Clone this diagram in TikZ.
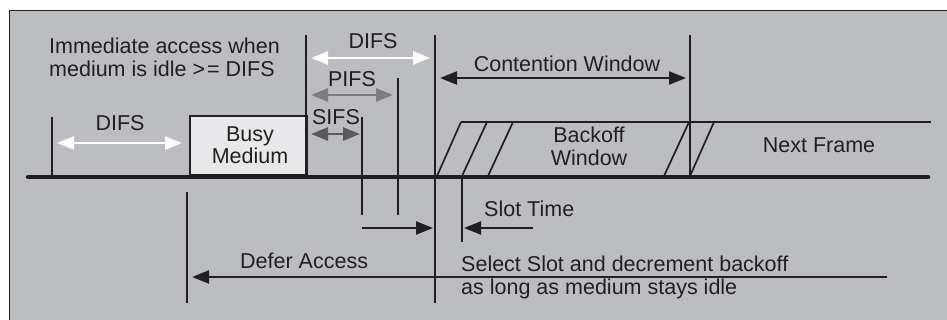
\documentclass[tikz,border=0pt]{standalone}
\usepackage{fontspec}
\setmainfont{Liberation Sans}
\usetikzlibrary{arrows.meta}
\definecolor{panel}{HTML}{BCBDC1}
\definecolor{busyfill}{HTML}{E8E8EA}
\definecolor{ink}{HTML}{231F20}
\definecolor{pifsgray}{HTML}{7E7E81}
\definecolor{sifsgray}{HTML}{5A5A5D}
\tikzset{
  lbl/.style={font=\fontsize{21.5}{23}\selectfont, text=ink, inner sep=0pt},
  thin/.style={draw=ink, line width=1.7pt},
  medium/.style={draw=ink, line width=4.5pt, line cap=round},
  tip/.tip={Triangle[length=17pt,width=13pt]},
  span/.style={line width=2.6pt, {tip}-{tip}},
  onearrow/.style={draw=ink, line width=2.2pt, -{tip}, fill=ink},
}
\begin{document}
\begin{tikzpicture}[x=1pt,y=-1pt]
\useasboundingbox (0,0) rectangle (947,320);
% panel
\fill[panel] (9.5,10.5) rectangle (947,320);
\draw[ink, line width=1.6pt] (9.5,320) -- (9.5,10.5) -- (947,10.5);

% busy medium frame
\node[draw=ink, line width=1.7pt, fill=busyfill, minimum width=117pt, minimum height=59pt,
      inner sep=0pt, anchor=south west] (busy) at (189,176) {};
\node[lbl, anchor=base] (busyA) at (250,142) {Busy};
\node[lbl, anchor=base] (busyB) at (250,164) {Medium};

% time points
\coordinate (t0top) at (52,117);   \coordinate (t0bot) at (52,176);
\coordinate (busytop) at (306,35); \coordinate (busybot) at (306,176);
\coordinate (sifstop) at (362,117); \coordinate (sifsbot) at (362,215);
\coordinate (pifstop) at (398,78);  \coordinate (pifsbot) at (398,215);
\coordinate (difstop) at (435,35);  \coordinate (difsbot) at (435,303);
\coordinate (cwtop) at (690,35);    \coordinate (cwbot) at (690,176);
\coordinate (slottop) at (462,176); \coordinate (slotbot) at (462,242);
\coordinate (defertop) at (187,192); \coordinate (deferbot) at (187,303);

\draw[thin] (t0top) -- (t0bot);
\draw[thin] (busytop) -- (busybot);
\draw[thin] (sifstop) -- (sifsbot);
\draw[thin] (pifstop) -- (pifsbot);
\draw[thin] (difstop) -- (difsbot);
\draw[thin] (cwtop) -- (cwbot);
\draw[thin] (slottop) -- (slotbot);
\draw[thin] (defertop) -- (deferbot);

% backoff slots and next frame
\coordinate (frameL) at (461,122); \coordinate (frameR) at (931,122);
\draw[thin] (frameL) -- (frameR);
\draw[thin] (437,176) -- (frameL);
\draw[thin] (462,176) -- (487,122);
\draw[thin] (488,176) -- (513,122);
\draw[thin] (664,176) -- (689,122);
\draw[thin] (690,176) -- (714,122);

% medium timeline
\coordinate (lineL) at (28,177); \coordinate (lineR) at (928,177);
\draw[medium] (lineL) -- (lineR);

% interval spans
\coordinate (difsAL) at (57,143);  \coordinate (difsAR) at (182,143);
\coordinate (difsBL) at (311,58);  \coordinate (difsBR) at (430,58);
\coordinate (pifsL) at (311,95);   \coordinate (pifsR) at (393,95);
\coordinate (sifsL) at (311,134);  \coordinate (sifsR) at (360,134);
\coordinate (cwL) at (440,78);     \coordinate (cwR) at (686,78);
\draw[span, white, fill=white] (difsAL) -- (difsAR);
\draw[span, white, fill=white] (difsBL) -- (difsBR);
\draw[span, pifsgray, fill=pifsgray] (pifsL) -- (pifsR);
\draw[span, sifsgray, fill=sifsgray] (sifsL) -- (sifsR);
\draw[span, ink, fill=ink, line width=2.2pt] (cwL) -- (cwR);

% one-way arrows
\coordinate (waitL) at (362,228); \coordinate (waitR) at (433,228);
\coordinate (slotR) at (533,228); \coordinate (slotL) at (464,228);
\coordinate (deferR) at (887,277); \coordinate (deferL) at (192,277);
\draw[onearrow] (waitL) -- (waitR);
\draw[onearrow] (slotR) -- (slotL);
\draw[onearrow] (deferR) -- (deferL);

% labels
\node[lbl, anchor=base west] (imm1) at (49,54) {Immediate access when};
\node[lbl, anchor=base west] (imm2) at (49,77) {medium is idle >\kern2pt= DIFS};
\node[lbl, anchor=base] (difsAlbl) at (120,131) {DIFS};
\node[lbl, anchor=base] (difsBlbl) at (373,49) {DIFS};
\node[lbl, anchor=base] (pifslbl) at (352,87) {PIFS};
\node[lbl, anchor=base] (sifslbl) at (336,125) {SIFS};
\node[lbl, anchor=base] (cwlbl) at (567,72) {Contention Window};
\node[lbl, anchor=base] (bo1) at (589,143) {Backoff};
\node[lbl, anchor=base] (bo2) at (589,166) {Window};
\node[lbl, anchor=base] (next) at (819,153) {Next Frame};
\node[lbl, anchor=base west] (slotlbl) at (484,217) {Slot Time};
\node[lbl, anchor=base west] (deferlbl) at (240,269) {Defer Access};
\node[lbl, anchor=base west] (sel1) at (461,271) {Select Slot and decrement backoff};
\node[lbl, anchor=base west] (sel2) at (461,294) {as long as medium stays idle};
\end{tikzpicture}
\end{document}
